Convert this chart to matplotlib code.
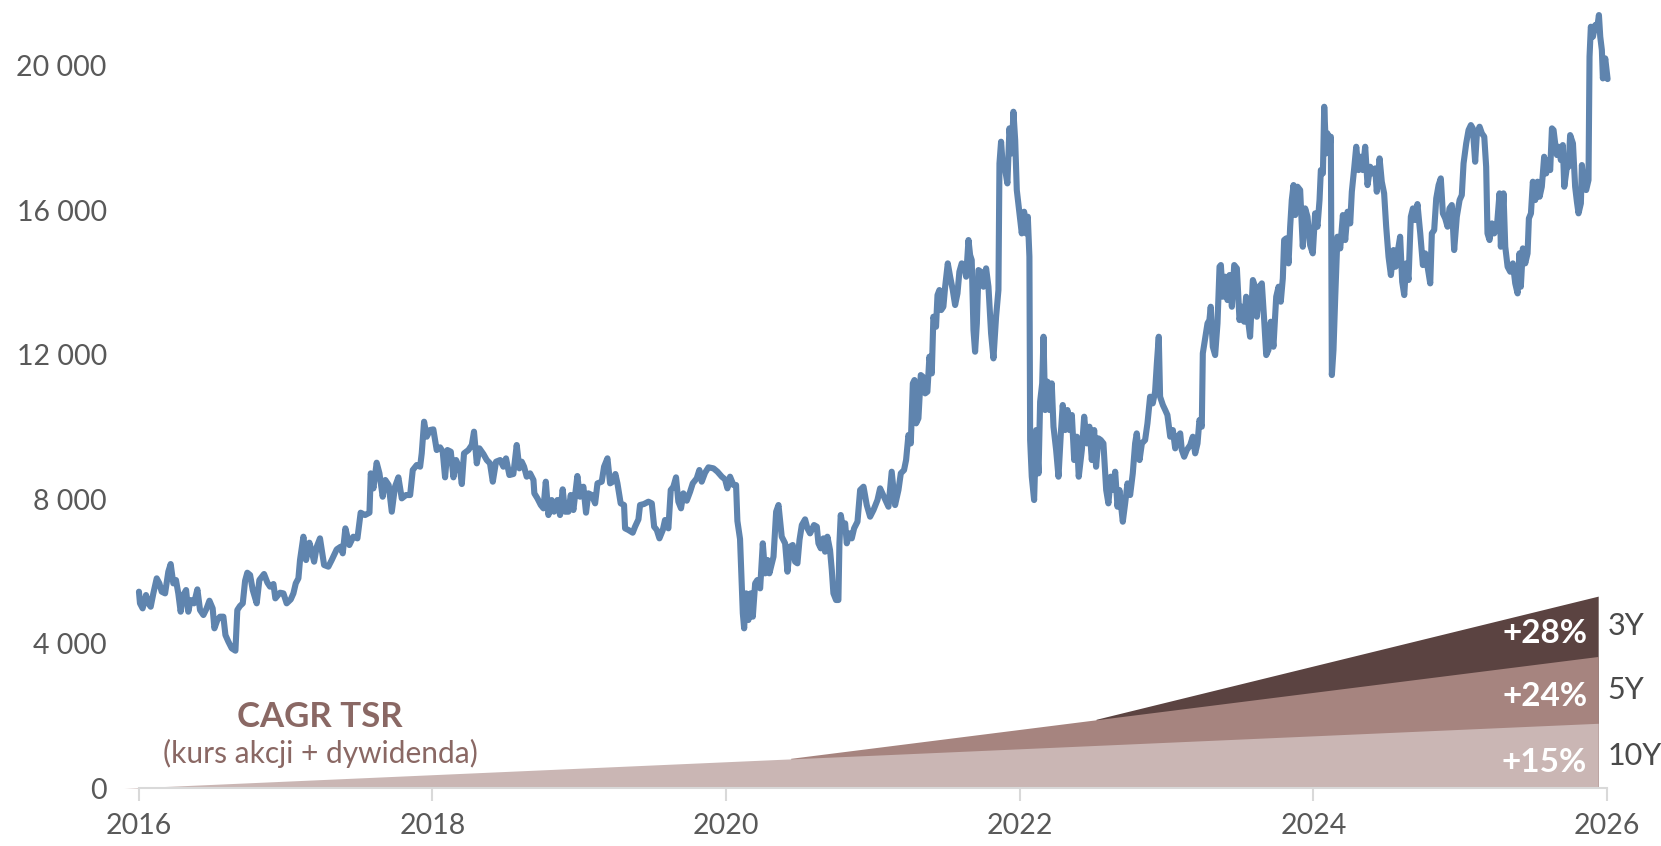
import matplotlib
matplotlib.use("Agg")
import matplotlib.pyplot as plt
from matplotlib.ticker import FuncFormatter

plt.rcParams['font.family'] = ['Lato', 'DejaVu Sans']

# Kurs akcji (data jako ułamek roku, wartość)
lata = [
    # 2016
    2016.001, 2016.008, 2016.026, 2016.049, 2016.065, 2016.081, 2016.099, 2016.122,
    2016.140, 2016.156, 2016.179, 2016.201, 2016.217, 2016.235, 2016.253, 2016.269,
    2016.285, 2016.303, 2016.322, 2016.337, 2016.353, 2016.376, 2016.399, 2016.417,
    2016.440, 2016.462, 2016.481, 2016.503, 2016.515, 2016.535, 2016.553, 2016.576,
    2016.590, 2016.610, 2016.633, 2016.658, 2016.671, 2016.689, 2016.708, 2016.724,
    2016.739, 2016.758, 2016.776, 2016.803, 2016.821, 2016.853, 2016.876, 2016.894,
    2016.917, 2016.930, 2016.962, 2016.985,
    # 2017
    2017.007, 2017.035, 2017.053, 2017.069, 2017.087, 2017.098, 2017.121, 2017.139,
    2017.162, 2017.178, 2017.194, 2017.212, 2017.234, 2017.262, 2017.291, 2017.314,
    2017.348, 2017.375, 2017.389, 2017.407, 2017.434, 2017.461, 2017.489, 2017.511,
    2017.541, 2017.571, 2017.580, 2017.598, 2017.620, 2017.639, 2017.661, 2017.679,
    2017.702, 2017.723, 2017.745, 2017.768, 2017.791, 2017.820, 2017.848, 2017.866,
    2017.893, 2017.916, 2017.927, 2017.943, 2017.961, 2017.984,
    # 2018
    2018.006, 2018.029, 2018.052, 2018.070, 2018.086, 2018.102, 2018.125, 2018.143,
    2018.161, 2018.188, 2018.200, 2018.215, 2018.245, 2018.268, 2018.283, 2018.302,
    2018.320, 2018.347, 2018.370, 2018.392, 2018.411, 2018.433, 2018.461, 2018.483,
    2018.501, 2018.524, 2018.551, 2018.574, 2018.592, 2018.608, 2018.624, 2018.642,
    2018.665, 2018.688, 2018.694, 2018.715, 2018.738, 2018.756, 2018.772, 2018.790,
    2018.812, 2018.828, 2018.851, 2018.869, 2018.887, 2018.903, 2018.926, 2018.942,
    2018.960, 2018.987,
    # 2019
    2019.005, 2019.028, 2019.046, 2019.062, 2019.085, 2019.108, 2019.124, 2019.153,
    2019.169, 2019.192, 2019.210, 2019.228, 2019.246, 2019.260, 2019.282, 2019.305,
    2019.312, 2019.335, 2019.364, 2019.380, 2019.403, 2019.414, 2019.441, 2019.471,
    2019.494, 2019.510, 2019.528, 2019.546, 2019.569, 2019.584, 2019.607, 2019.623,
    2019.641, 2019.659, 2019.675, 2019.693, 2019.709, 2019.732, 2019.755, 2019.773,
    2019.800, 2019.818, 2019.834, 2019.857, 2019.880, 2019.914, 2019.941, 2019.971,
    2019.993,
    # 2020
    2020.009, 2020.027, 2020.050, 2020.068, 2020.077, 2020.095, 2020.114, 2020.123,
    2020.136, 2020.152, 2020.168, 2020.182, 2020.198, 2020.213, 2020.232, 2020.250,
    2020.266, 2020.282, 2020.295, 2020.323, 2020.341, 2020.357, 2020.379, 2020.402,
    2020.418, 2020.436, 2020.454, 2020.470, 2020.486, 2020.500, 2020.516, 2020.538,
    2020.554, 2020.572, 2020.599, 2020.618, 2020.629, 2020.645, 2020.663, 2020.674,
    2020.690, 2020.708, 2020.720, 2020.731, 2020.749, 2020.765, 2020.772, 2020.781,
    2020.795, 2020.811, 2020.822, 2020.840, 2020.856, 2020.872, 2020.895, 2020.913,
    2020.936, 2020.958, 2020.981,
    # 2021
    2021.004, 2021.031, 2021.049, 2021.106, 2021.128, 2021.151, 2021.174, 2021.190,
    2021.212, 2021.226, 2021.242, 2021.258, 2021.272, 2021.283, 2021.294, 2021.310,
    2021.326, 2021.340, 2021.356, 2021.371, 2021.385, 2021.401, 2021.412, 2021.430,
    2021.440, 2021.453, 2021.465, 2021.480, 2021.492, 2021.510, 2021.526, 2021.544,
    2021.560, 2021.576, 2021.589, 2021.605, 2021.621, 2021.635, 2021.651, 2021.662,
    2021.673, 2021.685, 2021.696, 2021.708, 2021.719, 2021.735, 2021.753, 2021.771,
    2021.787, 2021.805, 2021.821, 2021.839, 2021.855, 2021.862, 2021.873, 2021.885,
    2021.901, 2021.916, 2021.930, 2021.946, 2021.957, 2021.969, 2021.980, 2021.998,
    # 2022
    2022.014, 2022.030, 2022.044, 2022.055, 2022.066, 2022.071, 2022.082, 2022.098,
    2022.112, 2022.128, 2022.139, 2022.153, 2022.162, 2022.173, 2022.189, 2022.203,
    2022.218, 2022.230, 2022.248, 2022.264, 2022.280, 2022.293, 2022.309, 2022.325,
    2022.339, 2022.355, 2022.371, 2022.389, 2022.402, 2022.423, 2022.439, 2022.457,
    2022.475, 2022.491, 2022.507, 2022.520, 2022.536, 2022.552, 2022.570, 2022.589,
    2022.604, 2022.620, 2022.638, 2022.650, 2022.666, 2022.679, 2022.702, 2022.718,
    2022.734, 2022.752, 2022.770, 2022.786, 2022.797, 2022.816, 2022.832, 2022.854,
    2022.870, 2022.888, 2022.906, 2022.922, 2022.934, 2022.947, 2022.956, 2022.975,
    2022.991,
    # 2023
    2023.006, 2023.025, 2023.043, 2023.059, 2023.077, 2023.093, 2023.104, 2023.120,
    2023.138, 2023.161, 2023.179, 2023.195, 2023.211, 2023.224, 2023.240, 2023.247,
    2023.263, 2023.279, 2023.292, 2023.301, 2023.315, 2023.331, 2023.347, 2023.361,
    2023.370, 2023.383, 2023.399, 2023.415, 2023.429, 2023.445, 2023.461, 2023.479,
    2023.497, 2023.513, 2023.529, 2023.542, 2023.558, 2023.569, 2023.588, 2023.603,
    2023.615, 2023.633, 2023.649, 2023.665, 2023.679, 2023.694, 2023.710, 2023.728,
    2023.747, 2023.763, 2023.778, 2023.792, 2023.801, 2023.815, 2023.831, 2023.842,
    2023.853, 2023.865, 2023.876, 2023.892, 2023.910, 2023.928, 2023.944, 2023.960,
    2023.978, 2023.996,
    # 2024
    2024.012, 2024.028, 2024.042, 2024.051, 2024.065, 2024.074, 2024.087, 2024.096,
    2024.110, 2024.119, 2024.126, 2024.137, 2024.149, 2024.164, 2024.183, 2024.201,
    2024.217, 2024.233, 2024.251, 2024.262, 2024.278, 2024.292, 2024.308, 2024.323,
    2024.337, 2024.353, 2024.369, 2024.387, 2024.405, 2024.421, 2024.432, 2024.451,
    2024.466, 2024.482, 2024.496, 2024.512, 2024.528, 2024.546, 2024.560, 2024.573,
    2024.591, 2024.605, 2024.619, 2024.632, 2024.648, 2024.664, 2024.678, 2024.694,
    2024.709, 2024.728, 2024.746, 2024.762, 2024.778, 2024.796, 2024.807, 2024.823,
    2024.837, 2024.853, 2024.868, 2024.882, 2024.898, 2024.914, 2024.927, 2024.943,
    2024.959, 2024.977, 2024.996,
    # 2025
    2025.011, 2025.023, 2025.041, 2025.057, 2025.073, 2025.086, 2025.102, 2025.114,
    2025.132, 2025.148, 2025.164, 2025.177, 2025.186, 2025.200, 2025.216, 2025.232,
    2025.250, 2025.268, 2025.277, 2025.295, 2025.307, 2025.323, 2025.341, 2025.359,
    2025.375, 2025.391, 2025.404, 2025.413, 2025.427, 2025.443, 2025.459, 2025.468,
    2025.482, 2025.495, 2025.511, 2025.527, 2025.541, 2025.556, 2025.572, 2025.586,
    2025.595, 2025.613, 2025.625, 2025.636, 2025.647, 2025.659, 2025.670, 2025.686,
    2025.699, 2025.709, 2025.727, 2025.738, 2025.749, 2025.768, 2025.783, 2025.795,
    2025.806, 2025.822, 2025.829, 2025.845, 2025.858, 2025.874, 2025.881, 2025.890,
    2025.904, 2025.920, 2025.931, 2025.945, 2025.954, 2025.965, 2025.972, 2025.988,
    2026.004,
]

kurs = [
    # 2016
    5443, 5120, 4981, 5350, 5120, 5027, 5396, 5812,
    5673, 5443, 5396, 5996, 6208, 5673, 5765, 5396,
    4889, 5350, 5489, 4889, 5212, 5120, 5507, 4935,
    4797, 4981, 5193, 4981, 4428, 4658, 4751, 4751,
    4243, 4059, 3874, 3809, 4935, 5046, 5120, 5747,
    5968, 5904, 5489, 5120, 5765, 5932, 5692, 5581,
    5655, 5258, 5415, 5396,
    # 2017
    5120, 5230, 5396, 5673, 5812, 6319, 6965, 6319,
    6799, 6550, 6273, 6688, 6919, 6181, 6135, 6319,
    6614, 6688, 6504, 7196, 6734, 6965, 6919, 7629,
    7565, 7629, 8718, 8303, 9014, 8718, 8072, 8534,
    8395, 7657, 8349, 8608, 8026, 8118, 8118, 8811,
    8949, 8903, 9272, 10148, 9733, 9918,
    # 2018
    9936, 9364, 9438, 9318, 8608, 9364, 9318, 8608,
    9087, 8811, 8423, 9272, 9364, 9503, 9872, 8995,
    9410, 9253, 9087, 8995, 8488, 9041, 9087, 8903,
    9133, 8672, 8700, 9503, 8857, 9041, 8903, 8626,
    8718, 8534, 8165, 8026, 7842, 7750, 8488, 7565,
    7980, 7657, 7980, 7565, 8276, 7657, 7657, 8119,
    7704, 8645,
    # 2019
    8072, 8349, 7630, 8165, 8119, 7888, 8442, 8488,
    8903, 9134, 8442, 8488, 8700, 8442, 7888, 7842,
    7196, 7150, 7076, 7242, 7445, 7842, 7870, 7934,
    7888, 7242, 7150, 6919, 7150, 7427, 7196, 8257,
    8349, 8608, 7934, 7750, 8165, 7962, 8211, 8442,
    8580, 8811, 8488, 8737, 8885, 8857, 8765, 8626,
    8552,
    # 2020
    8303, 8626, 8396, 8396, 7400, 6900, 4843, 4428,
    5397, 4658, 5397, 4751, 5673, 5766, 5535, 6781,
    5950, 6320, 5950, 6412, 7657, 7842, 6965, 6781,
    5997, 6689, 6735, 6273, 6227, 6873, 7288, 7445,
    7196, 7057, 7288, 7242, 6781, 6643, 6919, 6550,
    6965, 6596, 6043, 5397, 5212, 5212, 6781, 7565,
    7242, 7334, 6781, 7057, 6919, 7196, 7381, 8257,
    8349, 7842, 7519,
    # 2021
    7704, 7980, 8303, 7795, 8764, 7841, 8257, 8718,
    8810, 9087, 9779, 9548, 11209, 11302, 10102, 10240,
    11440, 11394, 10932, 10979, 11948, 11486, 13054, 12778,
    13654, 13793, 13239, 13331, 13885, 14531, 14162, 13793,
    13378, 13700, 14300, 14531, 14485, 14162, 15177, 14762,
    14623, 12686, 12086, 12870, 14346, 14300, 13885, 14393,
    13885, 12593, 11901, 13054, 13793, 17299, 17899, 17207,
    17115, 16745, 18268, 17576, 18729, 17945, 16561, 15915,
    # 2022
    15361, 15961, 15361, 15823, 14716, 9641, 8626, 7980,
    9917, 8718, 10702, 11209, 12501, 10471, 11256, 10471,
    11209, 10010, 9364, 8626, 9825, 10610, 9917, 10471,
    9917, 10333, 9087, 9733, 8626, 9364, 10287, 9548,
    10010, 9087, 9917, 8902, 9687, 9641, 9548, 8257,
    7887, 8626, 8257, 8764, 7795, 8257, 7380, 7887,
    8441, 8118, 8718, 9548, 9825, 9087, 9548, 9641,
    10102, 10840, 10656, 10979, 11763, 12501, 10840, 10610,
    10471,
    # 2023
    10333, 9733, 9917, 9410, 9733, 9825, 9364, 9179,
    9364, 9502, 9733, 9272, 9548, 10194, 10010, 12040,
    12455, 12870, 12962, 13331, 12224, 11993, 12870, 14439,
    14485, 13608, 14162, 13516, 14208, 13331, 14485, 14393,
    12962, 13331, 12916, 13608, 12870, 12501, 14070, 13885,
    13054, 13885, 13977, 12962, 11993, 12132, 12916, 12224,
    13608, 13885, 13470, 14116, 15177, 15223, 14531, 15546,
    16284, 16699, 15869, 16653, 16561, 14992, 16053, 15823,
    15038, 14808,
    # 2024
    15915, 15546, 16284, 17114, 17022, 18867, 17576, 18129,
    17760, 18037, 11440, 12132, 13608, 15269, 14946, 15869,
    15177, 15961, 15638, 16515, 17160, 17760, 17114, 17483,
    17114, 17760, 16699, 17206, 17022, 17160, 16515, 17437,
    16791, 16469, 15546, 14715, 14208, 14900, 14438, 14808,
    15269, 14023, 13654, 14531, 14070, 15823, 16053, 15730,
    16173, 15361, 14485, 14808, 14438, 13977, 15361, 15454,
    16330, 16699, 16884, 15915, 15777, 15546, 16053, 16146,
    14900, 15823, 16284,
    # 2025
    16422, 17299, 17852, 18221, 18360, 18268, 17345, 18129,
    18314, 18129, 18037, 17206, 15361, 15177, 15638, 15361,
    15546, 16469, 14992, 16469, 14992, 14438, 14300, 14531,
    13977, 13700, 14808, 13885, 14946, 14531, 14808, 15777,
    15915, 16792, 16284, 16792, 16376, 16653, 17483, 17022,
    17391, 17114, 18268, 18221, 17852, 17529, 17760, 17391,
    17806, 16653, 17206, 17206, 18083, 17852, 16653, 16238,
    15915, 16192, 17253, 16699, 16561, 16838, 20251, 21082,
    20805, 21128, 20990, 21405, 20805, 20436, 19652, 20205,
    19633,
]

# CAGR TSR: 3Y, 5Y, 10Y
cagr_okres = ['3Y', '5Y', '10Y']
cagr_proc = [28, 24, 15]
cagr_start_rok = [2022.52, 2020.44, 2015.90]
cagr_start_wart = [1910, 830, 0]
cagr_koniec_wart = [5320, 3650, 1800]
cagr_koniec_rok = 2025.94
cagr_kolory = ['#5b4341', '#a6847f', '#cab6b4']

lata_ticki = [2016, 2018, 2020, 2022, 2024, 2026]
wart_ticki = [0, 4000, 8000, 12000, 16000, 20000]

fig = plt.figure(figsize=(16.61, 8.46), dpi=100)
ax = fig.add_axes([0.08357, 0.0682, 0.88392, 0.9318])
ax.set_xlim(2016, 2026)
ax.set_ylim(0, 21822)

# Kliny CAGR (od najciemniejszego, jasne przykrywają spód)
for i in range(len(cagr_okres)):
    ax.fill_between([cagr_start_rok[i], cagr_koniec_rok],
                    [cagr_start_wart[i], cagr_koniec_wart[i]], 0,
                    color=cagr_kolory[i], lw=0, zorder=1, clip_on=False)

# Etykiety klinów
dolne = cagr_koniec_wart[1:] + [0]
for i in range(len(cagr_okres)):
    srodek = (cagr_koniec_wart[i] + dolne[i]) / 2
    ax.annotate(f"+{cagr_proc[i]}%", xy=(cagr_koniec_rok, srodek),
                xytext=(-11, -7), textcoords='offset pixels',
                ha='right', va='center', color='white', fontsize=24,
                fontweight='bold', zorder=4)
    ax.annotate(cagr_okres[i], xy=(cagr_koniec_rok, srodek),
                xytext=(9, 0), textcoords='offset pixels',
                ha='left', va='center', color='#4a4a4a', fontsize=22,
                zorder=4, annotation_clip=False)

ax.text(2017.234, 1974, 'CAGR TSR', ha='center', va='center',
        fontsize=25, fontweight='bold', color='#8a6864')
ax.text(2017.234, 954, '(kurs akcji + dywidenda)', ha='center', va='center',
        fontsize=21.5, color='#8a6864')

# Kurs
ax.plot(lata, kurs, color='#5f84ae', lw=4.4, solid_joinstyle='round',
        solid_capstyle='round', zorder=3, clip_on=False)

for s in ['top', 'right', 'left']:
    ax.spines[s].set_visible(False)
ax.spines['bottom'].set_color('#d9d9d9')
ax.spines['bottom'].set_linewidth(1.5)
ax.spines['bottom'].set_bounds(2016, 2026)

ax.set_xticks(lata_ticki)
ax.set_yticks(wart_ticki)
ax.yaxis.set_major_formatter(FuncFormatter(lambda v, p: f"{int(v):,}".replace(",", " ")))
ax.tick_params(axis='x', length=9, width=1.5, color='#d9d9d9', pad=9,
               labelsize=20.5, labelcolor='#595959')
ax.tick_params(axis='y', length=0, pad=23, labelsize=20.5, labelcolor='#595959')

fig.savefig('out.png', dpi=100, facecolor='white')
